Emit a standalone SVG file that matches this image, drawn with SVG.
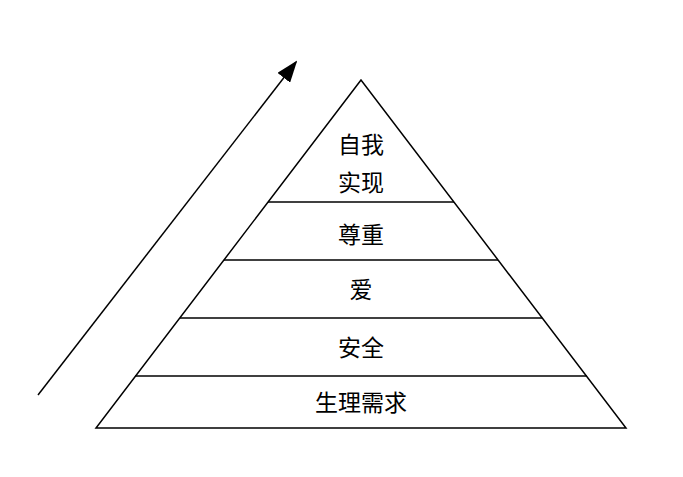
<svg xmlns="http://www.w3.org/2000/svg" width="683" height="477" viewBox="0 0 683 477">
<style>
.l{stroke:#000;stroke-width:1.5;fill:none}
.t{font-family:"Liberation Sans","Noto Sans CJK SC",sans-serif;font-size:23px;text-anchor:middle;fill:#000}
</style>
<defs><marker id="ah2" markerWidth="22" markerHeight="16" refX="20" refY="8" orient="auto" markerUnits="userSpaceOnUse"><path d="M0,0 L22,8 L0,16 z" fill="#000"/></marker></defs>
<rect width="683" height="477" fill="#fff"/>
<g id="connectors"><line class="l" x1="38" y1="395" x2="296" y2="62" marker-end="url(#ah2)"/></g>
<g id="pyramid"><polygon class="l" points="361,80 96,428 626,428"/></g>
<g id="n1"><text class="t" x="361" y="153">自我</text><text class="t" x="361" y="191">实现</text></g>
<g id="n2"><line class="l" x1="268" y1="202" x2="454" y2="202"/><text class="t" x="361" y="243">尊重</text></g>
<g id="n3"><line class="l" x1="224" y1="260" x2="498" y2="260"/><text class="t" x="361" y="298">爱</text></g>
<g id="n4"><line class="l" x1="180" y1="318" x2="542" y2="318"/><text class="t" x="361" y="356">安全</text></g>
<g id="n5"><line class="l" x1="135" y1="376" x2="587" y2="376"/><text class="t" x="361" y="411">生理需求</text></g>
</svg>
